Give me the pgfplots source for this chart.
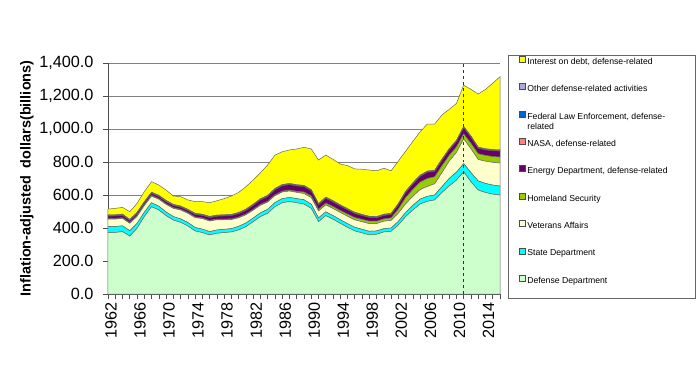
\documentclass[border=0pt]{standalone}
\usepackage{pgfplots}
\pgfplotsset{compat=1.18}
\usepackage{pgfplotstable}
\usepackage{fontspec}
\setmainfont{Liberation Sans}

\definecolor{cDef}{HTML}{CCFFCC}
\definecolor{cState}{HTML}{00FFFF}
\definecolor{cVA}{HTML}{FFFFCC}
\definecolor{cHS}{HTML}{99CC00}
\definecolor{cEn}{HTML}{660066}
\definecolor{cNASA}{HTML}{FF8080}
\definecolor{cFed}{HTML}{0066CC}
\definecolor{cOther}{HTML}{AAAADD}
\definecolor{cInt}{HTML}{FFFF00}

\pgfplotstableread{
year def state va hs energy nasa fed other int
1962 372 36 45 4 15 2 1 4 36
1963 373 36 45 4 15 2 1 4 39
1964 378 35 45 4 15 2 1 4 41
1965 351 33 44 4 13 2 1 4 47
1966 398 30 42 4 13 2 1 4 55
1967 469 26 40 4 13 2 1 4 61
1968 529 24 40 4 13 2 1 4 64
1969 509 23 42 4 13 2 1 4 62
1970 475 22 46 4 13 2 1 4 63
1971 448 21 50 4 13 2 1 4 51
1972 434 21 54 4 13 2 1 4 57
1973 412 21 56 4 13 2 1 4 57
1974 382 21 60 4 15 2 1 4 71
1975 372 21 64 4 15 2 1 4 77
1976 358 20 64 4 17 2 1 4 83
1977 368 20 62 4 17 2 1 4 87
1978 372 20 58 4 19 2 1 4 98
1979 376 20 55 4 20 2 1 4 112
1980 388 22 52 4 21 2 1 4 122
1981 408 22 50 4 23 2 1 4 136
1982 438 22 48 4 25 2 1 4 147
1983 469 23 46 5 27 2 1 4 158
1984 489 24 44 5 29 2 1 4 184
1985 529 25 42 5 31 2 1 4 203
1986 553 25 40 5 33 2 1 4 199
1987 560 25 39 6 33 2 1 4 203
1988 553 25 38 6 33 2 1 4 217
1989 545 26 38 9 33 2 1 4 231
1990 519 25 40 10 31 2 1 4 247
1991 438 23 42 10 28 2 1 4 264
1992 475 23 42 11 29 2 1 4 255
1993 453 22 43 12 28 2 1 4 251
1994 428 22 44 12 27 2 1 4 248
1995 404 22 45 13 26 2 1 4 261
1996 382 22 45 14 25 2 1 4 263
1997 370 22 46 14 23 2 1 4 274
1998 358 22 46 15 23 2 1 4 280
1999 362 20 45 14 21 2 1 4 278
2000 376 20 45 14 21 2 1 4 279
2001 380 20 46 15 21 2 1 4 258
2002 418 22 50 25 26 2 1 4 258
2003 469 25 52 38 31 2 1 4 243
2004 509 28 55 42 33 2 1 4 251
2005 545 30 58 45 35 2 1 4 264
2006 562 30 60 48 38 2 1 4 285
2007 570 30 68 42 33 2 1 4 280
2008 615 35 85 42 33 2 1 4 268
2009 655 45 105 35 33 2 1 4 239
2010 690 48 120 33 33 2 1 4 224
2011 740 50 150 30 38 2 1 4 251
2012 680 55 145 33 37 2 1 4 283
2013 630 55 130 35 33 2 1 4 322
2014 615 55 135 35 33 2 1 4 360
2015 605 55 138 35 35 2 1 4 402
2016 600 54 140 36 36 2 1 4 444
}\data

\begin{document}
\begin{tikzpicture}
\useasboundingbox (-108bp,-86bp) rectangle (592bp,294bp);
\begin{axis}[
  at={(0,0)}, anchor=south west,
  scale only axis, width=392bp, height=231bp,
  xmin=1962, xmax=2016, ymin=0, ymax=1400,
  clip=false,
  stack plots=y, no markers,
  axis x line*=bottom, axis y line*=left,
  axis line style={black!70, line width=0.6bp},
  ytick={0,200,...,1400},
  ymajorgrids, grid style={black!50, line width=0.6bp},
  xtick={1962,1966,...,2014},
  minor xtick={1962,...,2016},
  tick align=outside, major tick length=5bp, minor tick length=5bp,
  tick style={black!70, line width=0.6bp},
  xticklabel style={rotate=90, anchor=east, yshift=-3bp, font=\fontsize{16.3}{18}\selectfont,
    /pgf/number format/1000 sep={}, /pgf/number format/assume math mode=true},
  yticklabel style={xshift=-6bp, font=\fontsize{16.3}{18}\selectfont,
    /pgf/number format/fixed, /pgf/number format/fixed zerofill,
    /pgf/number format/precision=1, /pgf/number format/1000 sep={,},
    /pgf/number format/assume math mode=true},
  ylabel={Inflation-adjusted\ \ dollars(billions)},
  ylabel style={at={(axis description cs:-0.2066,0.5)}, anchor=center, rotate=0,
    font=\bfseries\fontsize{14.5}{16}\selectfont},
  legend cell align=left,
  reverse legend,
  legend style={draw=none, fill=none, at={(rel axis cs:1.0485,1.03)}, anchor=north west,
    inner sep=0pt, outer sep=0pt, row sep=16.9bp, column sep=2bp,
    font=\fontsize{8.7}{10.2}\selectfont,
    nodes={inner sep=0pt, text height=6.5bp, text depth=2bp}},
  legend image code/.code={\draw[#1, draw=black!70, line width=0.4bp] (0bp,0bp) rectangle (6bp,6bp);},
]
\addplot[fill=cDef, draw=black!60, line width=0.5bp] table[x=year,y=def]{\data} \closedcycle;
\addlegendentry{Defense Department}
\addplot[fill=cState, draw=black!60, line width=0.5bp] table[x=year,y=state]{\data} \closedcycle;
\addlegendentry{State Department}
\addplot[fill=cVA, draw=black!60, line width=0.5bp] table[x=year,y=va]{\data} \closedcycle;
\addlegendentry{Veterans Affairs}
\addplot[fill=cHS, draw=black!60, line width=0.5bp] table[x=year,y=hs]{\data} \closedcycle;
\addlegendentry{Homeland Security}
\addplot[fill=cEn, draw=black!60, line width=0.5bp] table[x=year,y=energy]{\data} \closedcycle;
\addlegendentry{Energy Department, defense-related}
\addplot[fill=cNASA, draw=black!60, line width=0.5bp] table[x=year,y=nasa]{\data} \closedcycle;
\addlegendentry{NASA, defense-related}
\addplot[fill=cFed, draw=black!60, line width=0.5bp] table[x=year,y=fed]{\data} \closedcycle;
\addlegendentry{\smash{\parbox[t]{150bp}{Federal Law Enforcement, defense-\\related}}}
\addplot[fill=cOther, draw=black!60, line width=0.5bp] table[x=year,y=other]{\data} \closedcycle;
\addlegendentry{Other defense-related activities}
\addplot[fill=cInt, draw=black!60, line width=0.5bp] table[x=year,y=int]{\data} \closedcycle;
\addlegendentry{Interest on debt, defense-related}
\end{axis}
% reference line at 2011: x = (2011-1962)/54 * 392bp
\draw[dashed, black!80, line width=0.6bp] (355.7bp,0bp) -- (355.7bp,231bp);
\draw[black!60, line width=0.6bp] (400bp,-4bp) rectangle (587bp,239bp);
\end{tikzpicture}
\end{document}
